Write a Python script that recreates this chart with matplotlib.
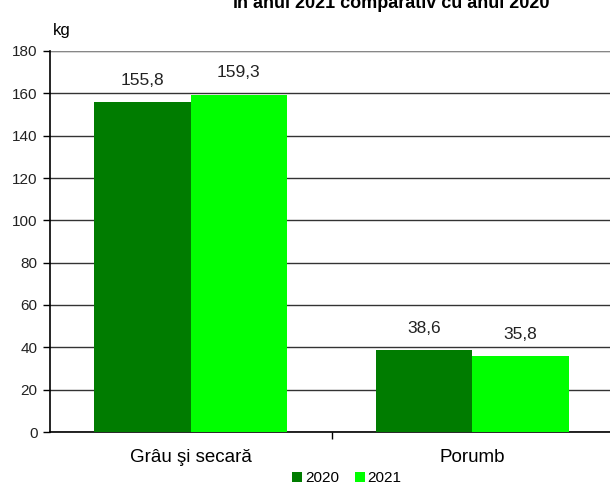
import numpy as np
import matplotlib
matplotlib.use('Agg')
import matplotlib.pyplot as plt

plt.rcParams['font.family'] = ['Liberation Sans', 'DejaVu Sans']

# Data
categories = ['Grâu şi secară', 'Porumb']
years = ['2020', '2021']
values_2020 = [155.8, 38.6]
values_2021 = [159.3, 35.8]
colors = ['#007c00', '#00ff00']

fig = plt.figure(figsize=(6.1, 4.9), dpi=100)
ax = fig.add_axes([50 / 610, 58 / 490, 563 / 610, 381 / 490])

x = np.arange(len(categories))
w = 0.342
bars1 = ax.bar(x - w / 2, values_2020, w, color=colors[0], label=years[0], zorder=3)
bars2 = ax.bar(x + w / 2, values_2021, w, color=colors[1], label=years[1], zorder=3)

# value labels, decimal comma
for bars in (bars1, bars2):
    for b in bars:
        v = b.get_height()
        ax.annotate(f'{v:.1f}'.replace('.', ','), (b.get_x() + b.get_width() / 2, v),
                    xytext=(0, 16), textcoords='offset points',
                    ha='center', va='center', fontsize=12.5, color='#222222')

ax.set_xlim(-0.5, 1.5)
ax.set_ylim(0, 180)
ax.set_yticks(np.arange(0, 181, 20))
ax.yaxis.grid(True, color='#333333', linewidth=1.0, zorder=0)
ax.set_axisbelow(True)

ax.set_xticks(x)
ax.set_xticklabels(categories, fontsize=13.5)
ax.tick_params(axis='x', length=0, pad=12)
ax.set_xticks([0.5], minor=True)
ax.tick_params(axis='x', which='minor', length=5, width=1, color='black')
ax.tick_params(axis='y', length=5, width=1, labelsize=11, pad=4, labelcolor='#222222')

for s in ('top', 'right'):
    ax.spines[s].set_visible(False)
ax.spines['left'].set_linewidth(1.2)
ax.spines['bottom'].set_linewidth(1.2)
ax.axhline(180, color='#999999', linewidth=1.2, zorder=1)

fig.text(62 / 610, 1 - 30 / 490, 'kg', fontsize=12, ha='center', va='center')

# title line at the very top (cut by the top edge, as in the original)
fig.text(391 / 610, 1 - 8 / 490, 'în anul 2021 comparativ cu anul 2020',
         fontsize=13, fontweight='bold', ha='center', va='baseline')

ax.legend(loc='center', bbox_to_anchor=(347 / 610, 12 / 490), bbox_transform=fig.transFigure,
          ncol=2, frameon=False, fontsize=11, handlelength=0.65, handleheight=0.65,
          handletextpad=0.2, columnspacing=1.0)

fig.savefig('out.png', dpi=100)
